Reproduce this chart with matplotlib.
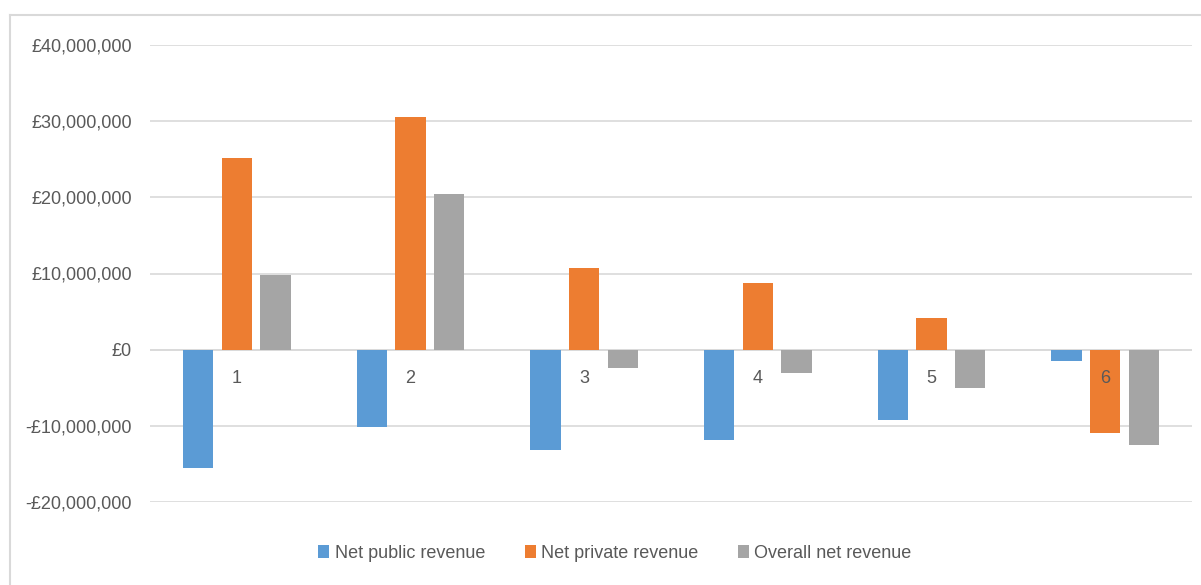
import matplotlib
matplotlib.use("Agg")
import matplotlib.pyplot as plt
import numpy as np
from matplotlib.ticker import FuncFormatter
from matplotlib.lines import Line2D

categories = ["1", "2", "3", "4", "5", "6"]
net_public = [-15.5e6, -10.2e6, -13.2e6, -11.9e6, -9.25e6, -1.5e6]
net_private = [25.1e6, 30.5e6, 10.7e6, 8.7e6, 4.1e6, -11.0e6]
overall_net = [9.8e6, 20.5e6, -2.4e6, -3.1e6, -5.05e6, -12.5e6]
series_names = ["Net public revenue", "Net private revenue", "Overall net revenue"]
colors = ["#5b9bd5", "#ed7d31", "#a5a5a5"]

plt.rcParams['font.family'] = ['Liberation Sans', 'DejaVu Sans']
text_color = "#595959"
grid_color = "#d9d9d9"

W, H = 1201, 585
fig = plt.figure(figsize=(W / 100, H / 100), dpi=100)
ax = fig.add_axes([150 / W, (H - 502) / H, (1192 - 150) / W, (502 - 45) / H])

x = np.arange(len(categories))
width = 0.175
step = 0.222
for k, (vals, name, c) in enumerate(zip([net_public, net_private, overall_net], series_names, colors)):
    ax.bar(x + (k - 1) * step, vals, width, color=c, label=name, zorder=3)

ax.set_xlim(-0.5, len(categories) - 0.5)
ax.set_ylim(-20e6, 40e6)
ax.set_yticks(np.arange(-20e6, 40e6 + 1, 10e6))


def fmt(v, pos):
    if v == 0:
        return "£0"
    s = "£{:,.0f}".format(abs(v))
    return "-" + s if v < 0 else s


ax.yaxis.set_major_formatter(FuncFormatter(fmt))
ax.tick_params(axis='y', length=0, pad=13, labelsize=13, labelcolor=text_color)
ax.set_xticks([])
ax.grid(axis='y', color=grid_color, lw=1.2, zorder=0)
ax.axhline(0, color=grid_color, lw=1.2, zorder=1)
for s in ax.spines.values():
    s.set_visible(False)

for i, lab in enumerate(categories):
    ax.annotate(lab, xy=(i, 0), xytext=(0, -29), textcoords='offset pixels',
                ha='center', va='center', fontsize=13, color=text_color, zorder=4)

fig.legend(loc='center', bbox_to_anchor=(615 / W, (H - 553) / H), ncol=3, frameon=False,
           fontsize=13, handlelength=0.6, handleheight=0.75, handletextpad=0.3,
           columnspacing=2.2, labelcolor=text_color)

# outer chart border: only top and left edges are visible in the reference
fig.add_artist(Line2D([10 / W, 1.0], [(H - 15) / H, (H - 15) / H], transform=fig.transFigure,
                      color=grid_color, lw=1.5))
fig.add_artist(Line2D([10 / W, 10 / W], [0, (H - 15) / H], transform=fig.transFigure,
                      color=grid_color, lw=1.5))

fig.savefig("out.png", dpi=100)
